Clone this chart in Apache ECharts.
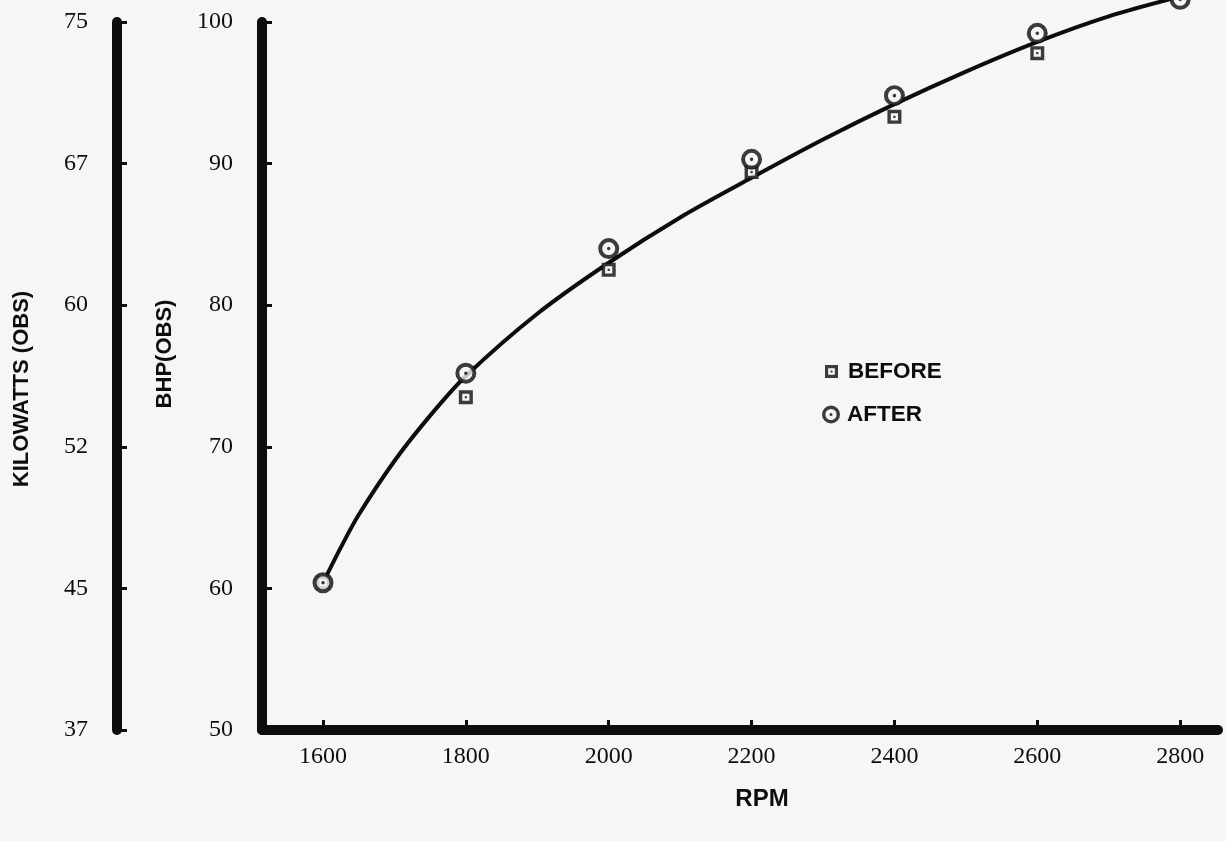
<!DOCTYPE html>
<html>
<head>
<meta charset="utf-8">
<script src="https://cdn.jsdelivr.net/npm/echarts@6/dist/echarts.min.js"></script>
<style>
  html, body { margin: 0; padding: 0; background: #f6f6f4; }
  #chart { width: 1226px; height: 841px; }
</style>
</head>
<body>
<div id="chart"></div>
<script>
// ---- data ----
const rpmTicks = [1600, 1800, 2000, 2200, 2400, 2600, 2800];
const kwTickLabels = ['37', '45', '52', '60', '67', '75'];   // at BHP 50..100

const beforeRpm = [1600, 1800, 2000, 2200, 2400, 2600];
const beforeBhp = [60.4, 73.5, 82.5, 89.4, 93.3, 97.8];

const afterRpm = [1600, 1800, 2000, 2200, 2400, 2600, 2800];
const afterBhp = [60.4, 75.2, 84.0, 90.3, 94.8, 99.2, 101.6];

const curveRpm = [1600, 1625, 1650, 1700, 1750, 1800, 1900, 2000, 2100, 2200, 2300, 2400, 2500, 2600, 2700, 2800];
const curveBhp = [60.4, 62.9, 65.2, 69.0, 72.2, 75.0, 79.4, 83.0, 86.2, 89.0, 91.7, 94.2, 96.5, 98.6, 100.4, 101.8];

// ---- build ----
const pairs = (xs, ys) => xs.map((x, i) => [x, ys[i]]);

const SERIF = '"Liberation Serif", "DejaVu Serif", serif';
const SANS = '"Liberation Sans", Arial, sans-serif';
const INK = '#0d0d0d';
const PAPER = '#f6f6f4';

const squareSym = 'path://M-7,-7L7,-7L7,7L-7,7ZM-3.6,-3.6L-3.6,3.6L3.6,3.6L3.6,-3.6ZM-1.1,-1.1L1.1,-1.1L1.1,1.1L-1.1,1.1Z';
const circleSym = 'path://M10,0A10,10,0,1,1,-10,0A10,10,0,1,1,10,0ZM6.2,0A6.2,6.2,0,1,0,-6.2,0A6.2,6.2,0,1,0,6.2,0ZM1.7,0A1.7,1.7,0,1,1,-1.7,0A1.7,1.7,0,1,1,1.7,0Z';

const axisLineStyle = { color: INK, width: 10, cap: 'round' };
const tickStyle = { show: true, inside: true, length: 10, lineStyle: { color: INK, width: 3 } };
const yLabel = { color: INK, fontFamily: SERIF, fontSize: 24, margin: 29 };
const nameStyle = { color: INK, fontFamily: SANS, fontWeight: 'bold', fontSize: 22 };
const legendText = { color: INK, fontFamily: SANS, fontWeight: 'bold', fontSize: 22.5 };

const chart = echarts.init(document.getElementById('chart'), null, { renderer: 'canvas' });
chart.setOption({
  backgroundColor: PAPER,
  animation: false,
  grid: { left: 262, right: 8, top: 22, bottom: 111, containLabel: false },
  legend: [
    {
      data: [{ name: 'BEFORE', icon: squareSym }],
      orient: 'vertical', left: 825, top: 360, padding: 0,
      itemWidth: 13, itemHeight: 13,
      textStyle: Object.assign({}, legendText, { padding: [0, 0, 0, 5] }),
      selectedMode: false
    },
    {
      data: [{ name: 'AFTER', icon: circleSym }],
      orient: 'vertical', left: 822, top: 403, padding: 0,
      itemWidth: 18, itemHeight: 18,
      textStyle: Object.assign({}, legendText, { padding: [0, 0, 0, 2] }),
      selectedMode: false
    }
  ],
  xAxis: {
    type: 'value',
    min: 1514.6, max: 2853,
    name: 'RPM', nameLocation: 'middle', nameGap: 57,
    nameTextStyle: Object.assign({}, nameStyle, { fontSize: 24, padding: [0, 0, 0, 44] }),
    axisLine: { show: true, lineStyle: axisLineStyle },
    axisTick: Object.assign({}, tickStyle, { customValues: rpmTicks }),
    axisLabel: {
      color: INK, fontFamily: SERIF, fontSize: 24, margin: 15,
      customValues: rpmTicks, formatter: v => String(v)
    },
    splitLine: { show: false }
  },
  yAxis: [
    {
      type: 'value', position: 'left', offset: 0,
      min: 50, max: 100, interval: 10,
      name: 'BHP(OBS)', nameLocation: 'middle', nameGap: 86,
      nameTextStyle: Object.assign({}, nameStyle, { padding: [0, 0, 0, 44] }),
      axisLine: { show: true, lineStyle: axisLineStyle },
      axisTick: tickStyle,
      axisLabel: yLabel,
      splitLine: { show: false }
    },
    {
      type: 'value', position: 'left', offset: 145,
      min: 50, max: 100, interval: 10,
      name: 'KILOWATTS (OBS)', nameLocation: 'middle', nameGap: 84,
      nameTextStyle: Object.assign({}, nameStyle, { padding: [0, 26, 0, 0] }),
      axisLine: { show: true, lineStyle: axisLineStyle },
      axisTick: tickStyle,
      axisLabel: Object.assign({}, yLabel, {
        formatter: v => kwTickLabels[Math.round((v - 50) / 10)]
      }),
      splitLine: { show: false }
    }
  ],
  series: [
    {
      name: 'fit', type: 'line', data: pairs(curveRpm, curveBhp),
      smooth: 0.3, showSymbol: false, clip: false, z: 2,
      lineStyle: { color: INK, width: 4 }, silent: true
    },
    {
      name: 'beforeBg', type: 'scatter', data: pairs(beforeRpm, beforeBhp),
      symbol: 'rect', symbolSize: 12, clip: false, z: 3, silent: true,
      itemStyle: { color: PAPER }
    },
    {
      name: 'BEFORE', type: 'scatter', data: pairs(beforeRpm, beforeBhp),
      symbol: squareSym, symbolSize: 14, clip: false, z: 4,
      itemStyle: { color: INK }
    },
    {
      name: 'afterBg', type: 'scatter', data: pairs(afterRpm, afterBhp),
      symbol: 'circle', symbolSize: 18, clip: false, z: 5, silent: true,
      itemStyle: { color: PAPER }
    },
    {
      name: 'AFTER', type: 'scatter', data: pairs(afterRpm, afterBhp),
      symbol: circleSym, symbolSize: 21, clip: false, z: 6,
      itemStyle: { color: INK }
    }
  ]
});
</script>
</body>
</html>
